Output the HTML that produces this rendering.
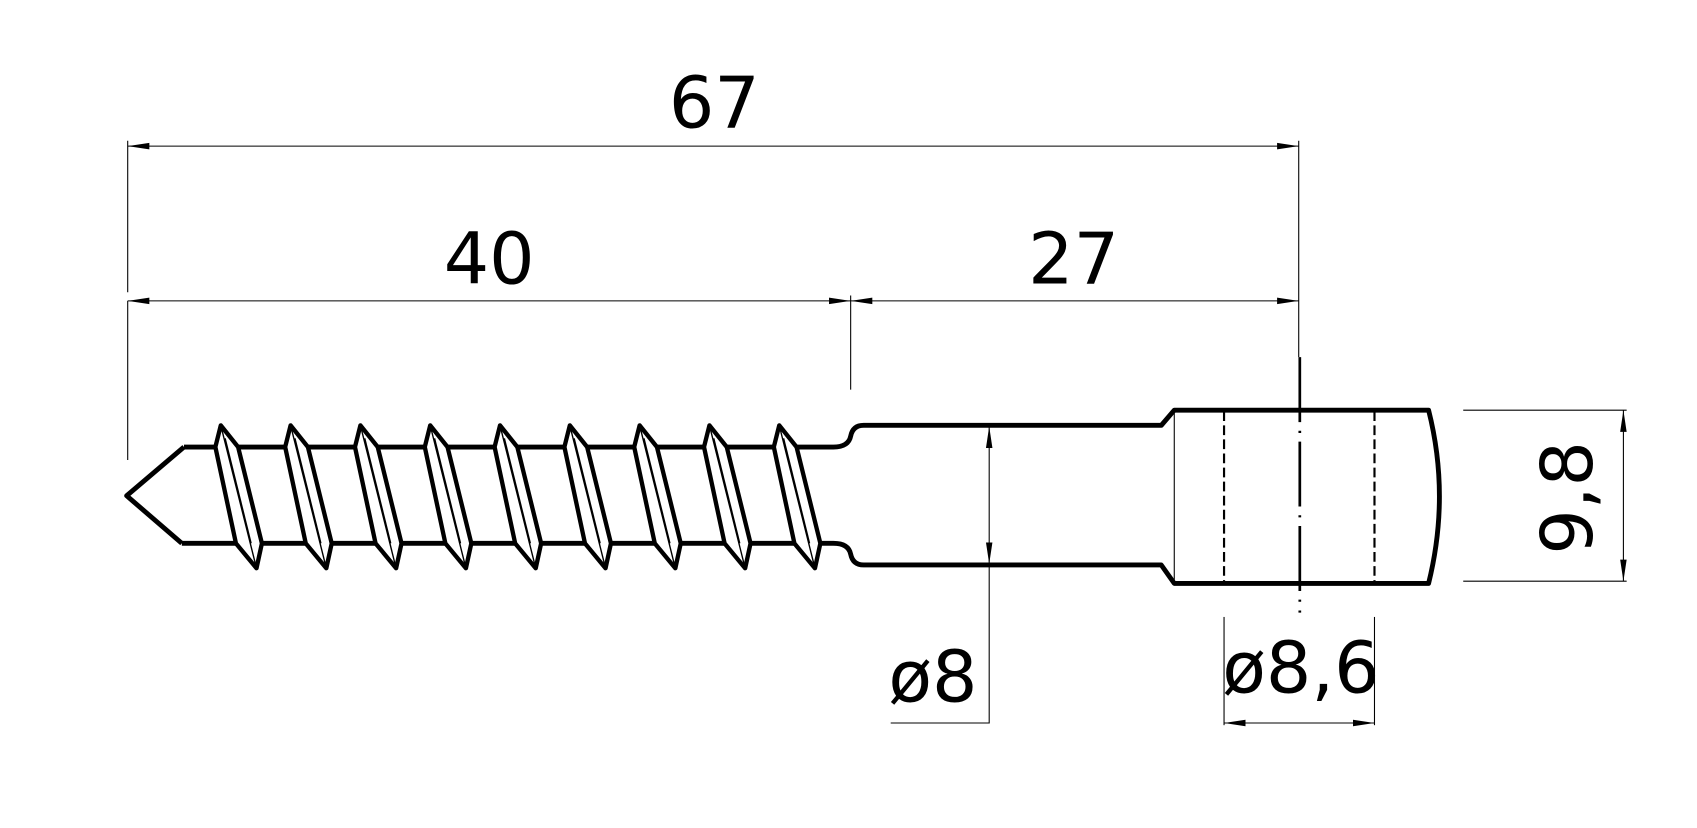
<!DOCTYPE html>
<html><head><meta charset="utf-8"><style>html,body{margin:0;padding:0;background:#fff}svg{display:block}</style></head>
<body>
<svg width="1697" height="828" viewBox="0 0 1568 765" preserveAspectRatio="none" xmlns="http://www.w3.org/2000/svg" font-family="DejaVu Sans, Liberation Sans, sans-serif">
<defs>
<marker id="a" viewBox="0 0 20 8" refX="20" refY="4" markerWidth="20" markerHeight="8" markerUnits="userSpaceOnUse" orient="auto-start-reverse"><path d="M0,1 L20,4 L0,7 Z" fill="#000"/></marker>
</defs>
<g stroke="#000" stroke-width="1" fill="none">
<line x1="118" y1="130" x2="118" y2="270"/>
<line x1="118" y1="278" x2="118" y2="425"/>
<line x1="786" y1="273" x2="786" y2="360"/>
<line x1="1200" y1="130" x2="1200" y2="330"/>
<line x1="118" y1="135" x2="1200" y2="135" marker-start="url(#a)" marker-end="url(#a)"/>
<line x1="118" y1="278" x2="786" y2="278" marker-start="url(#a)" marker-end="url(#a)"/>
<line x1="786" y1="278" x2="1200" y2="278" marker-start="url(#a)" marker-end="url(#a)"/>
<line x1="914" y1="394" x2="914" y2="521" marker-start="url(#a)" marker-end="url(#a)"/>
<polyline points="914,521 914,668 823,668"/>
<line x1="1131" y1="570" x2="1131" y2="670"/>
<line x1="1270" y1="570" x2="1270" y2="670"/>
<line x1="1131" y1="668" x2="1270" y2="668" marker-start="url(#a)" marker-end="url(#a)"/>
<line x1="1352" y1="379" x2="1503" y2="379"/>
<line x1="1352" y1="537" x2="1503" y2="537"/>
<line x1="1500" y1="379" x2="1500" y2="537" marker-start="url(#a)" marker-end="url(#a)"/>
<line x1="1085" y1="379" x2="1085" y2="539"/>
</g>
<g stroke="#000" stroke-width="2" stroke-dasharray="9,4">
<line x1="1131" y1="380" x2="1131" y2="538"/>
<line x1="1270" y1="380" x2="1270" y2="538"/>
</g>
<line x1="1201" y1="330" x2="1201" y2="566" stroke="#000" stroke-width="2.5" stroke-dasharray="60,8,2,8"/>
<g stroke="#000" stroke-width="4.5" fill="none" stroke-linejoin="round">
<polyline points="170,413 117,458 168,502"/>
<path d="M170,413 H770 Q784,413 786,403 Q788,393 798,393 H1073 L1085,379 H1320 Q1340,458 1320,539 H1085 L1073,522 H798 Q788,522 786,512 Q784,502 770,502 H168"/>
</g>
<g stroke="#000" fill="#fff" stroke-linejoin="round">
<g id="t">
<polygon points="199,413 204,393 220,413 242,502 237,525 218,502" stroke-width="4"/>
<g stroke-width="1.3" fill="none">
<line x1="204" y1="393" x2="237" y2="525"/>
<line x1="199" y1="413" x2="218" y2="502"/>
<line x1="208" y1="405" x2="232" y2="502"/>
<line x1="220" y1="413" x2="242" y2="502"/>
</g>
</g>
<use href="#t" x="64.5"/>
<use href="#t" x="129"/>
<use href="#t" x="193.5"/>
<use href="#t" x="258"/>
<use href="#t" x="322.5"/>
<use href="#t" x="387"/>
<use href="#t" x="451.5"/>
<use href="#t" x="516"/>
</g>
<g font-size="66" fill="#000" text-anchor="middle">
<text x="660" y="118">67</text>
<text x="452" y="262">40</text>
<text x="992" y="262">27</text>
<text x="862" y="648">ø8</text>
<text x="1202" y="640">ø8,6</text>
<text transform="translate(1471,460) rotate(-90)">9,8</text>
</g>
</svg>
</body></html>
